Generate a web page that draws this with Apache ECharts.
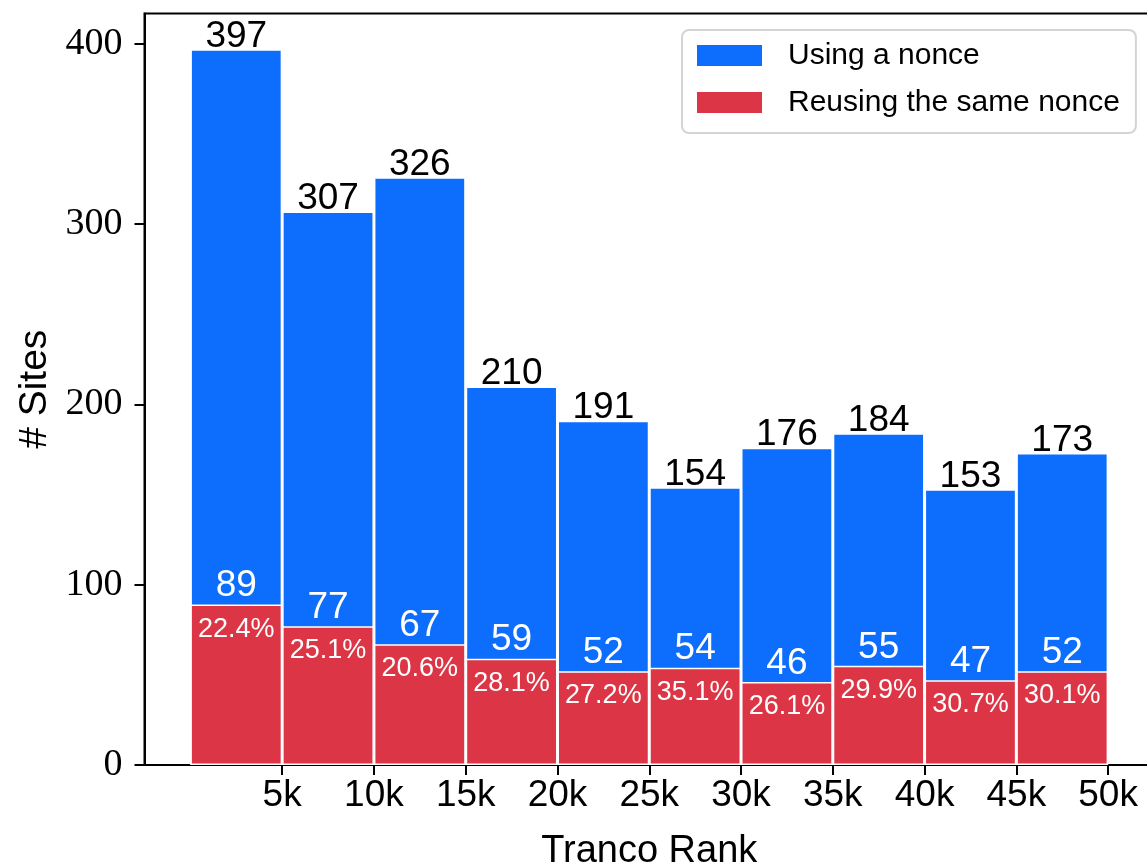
<!DOCTYPE html>
<html>
<head>
<meta charset="utf-8">
<script src="https://cdn.jsdelivr.net/npm/echarts@6/dist/echarts.min.js"></script>
<style>
  html, body { margin: 0; padding: 0; background: #fff; }
  #chart { width: 1147px; height: 864px; }
</style>
</head>
<body>
<div id="chart"></div>
<script>
// Tranco rank bins (bin edges, in rank units)
const binEdges = [0, 5000, 10000, 15000, 20000, 25000, 30000, 35000, 40000, 45000, 50000];
// Sites using a nonce per bin
const usingNonce = [397, 307, 326, 210, 191, 154, 176, 184, 153, 173];
// Sites reusing the same nonce per bin
const reusingNonce = [89, 77, 67, 59, 52, 54, 46, 55, 47, 52];
// Tick labels
const xTicks = [5000, 10000, 15000, 20000, 25000, 30000, 35000, 40000, 45000, 50000];
const yTicks = [0, 100, 200, 300, 400];

const seriesNames = ['Using a nonce', 'Reusing the same nonce'];
const BLUE = '#0d6efd';
const RED = '#dc3545';
const SANS = '"Liberation Sans", Arial, sans-serif';
const SERIF = '"Liberation Serif", "Times New Roman", serif';

// bar centers from bin edges
const mids = usingNonce.map((_, i) => (binEdges[i] + binEdges[i + 1]) / 2);
const blueData = usingNonce.map((v, i) => [mids[i], v]);
const redData = reusingNonce.map((v, i) => [mids[i], v]);
const pctData = reusingNonce.map((v, i) => [mids[i], v, (v / usingNonce[i] * 100).toFixed(1) + '%']);

const span = binEdges[binEdges.length - 1] - binEdges[0];
const xMin = binEdges[0] - span * 0.05;
const xMax = binEdges[binEdges.length - 1] + span * 0.05;
const yMax = Math.max(...usingNonce) * 1.05;

const chart = echarts.init(document.getElementById('chart'), null, { renderer: 'canvas' });

const barBorder = { borderColor: '#fff', borderWidth: 1.5 };

chart.setOption({
  animation: false,
  backgroundColor: '#fff',
  grid: {
    left: 144.5, top: 13.5, right: -7, bottom: 99,
    outerBoundsMode: 'none', containLabel: false,
    show: true, borderColor: '#000', borderWidth: 2, backgroundColor: 'transparent'
  },
  legend: {
    data: [
      { name: seriesNames[0], icon: 'rect' },
      { name: seriesNames[1], icon: 'rect' }
    ],
    orient: 'vertical',
    left: 682, top: 30,
    padding: [9, 16, 14, 15],
    itemWidth: 65, itemHeight: 21, itemGap: 14,
    backgroundColor: 'rgba(255,255,255,0.8)',
    borderColor: '#d4d4d4', borderWidth: 2, borderRadius: 7,
    textStyle: { fontFamily: SANS, fontSize: 30, color: '#000', lineHeight: 33, padding: [0, 0, 0, 21] },
    itemStyle: { borderWidth: 0 }
  },
  xAxis: {
    type: 'value',
    min: xMin, max: xMax,
    name: 'Tranco Rank', nameLocation: 'middle', nameGap: 68,
    nameTextStyle: { fontFamily: SANS, fontSize: 38, color: '#000' },
    axisLine: { show: true, onZero: false, lineStyle: { color: '#000', width: 2 } },
    axisTick: { show: true, length: 10, customValues: xTicks, lineStyle: { color: '#000', width: 2 } },
    axisLabel: {
      customValues: xTicks, margin: 12,
      fontFamily: SANS, fontSize: 37, color: '#000',
      formatter: v => (v / 1000) + 'k'
    },
    splitLine: { show: false }
  },
  yAxis: {
    type: 'value',
    min: 0, max: yMax,
    name: '# Sites', nameLocation: 'middle', nameGap: 86,
    nameTextStyle: { fontFamily: SANS, fontSize: 39, color: '#000' },
    axisLine: { show: true, onZero: false, lineStyle: { color: '#000', width: 2 } },
    axisTick: { show: true, length: 10, customValues: yTicks, lineStyle: { color: '#000', width: 2 } },
    axisLabel: {
      customValues: yTicks, margin: 22,
      fontFamily: SERIF, fontSize: 38, color: '#000'
    },
    splitLine: { show: false }
  },
  series: [
    {
      name: seriesNames[0], type: 'bar', data: blueData,
      barWidth: '100%', barGap: '-100%',
      itemStyle: Object.assign({ color: BLUE }, barBorder),
      label: {
        show: true, position: 'top', distance: -6,
        fontFamily: SANS, fontSize: 37, color: '#000',
        formatter: p => p.value[1]
      },
      z: 2
    },
    {
      name: seriesNames[1], type: 'bar', data: redData,
      barWidth: '100%', barGap: '-100%',
      itemStyle: Object.assign({ color: RED }, barBorder),
      label: {
        show: true, position: 'top', distance: 0,
        fontFamily: SANS, fontSize: 37, color: '#fff',
        formatter: p => p.value[1]
      },
      z: 3
    },
    {
      name: 'share', type: 'bar', data: pctData,
      barWidth: '100%', barGap: '-100%',
      itemStyle: { color: 'rgba(0,0,0,0)', borderWidth: 0 },
      label: {
        show: true, position: 'insideTop', distance: 11,
        fontFamily: SANS, fontSize: 27, color: '#fff',
        formatter: p => p.value[2]
      },
      silent: true,
      z: 4
    }
  ]
});
</script>
</body>
</html>
